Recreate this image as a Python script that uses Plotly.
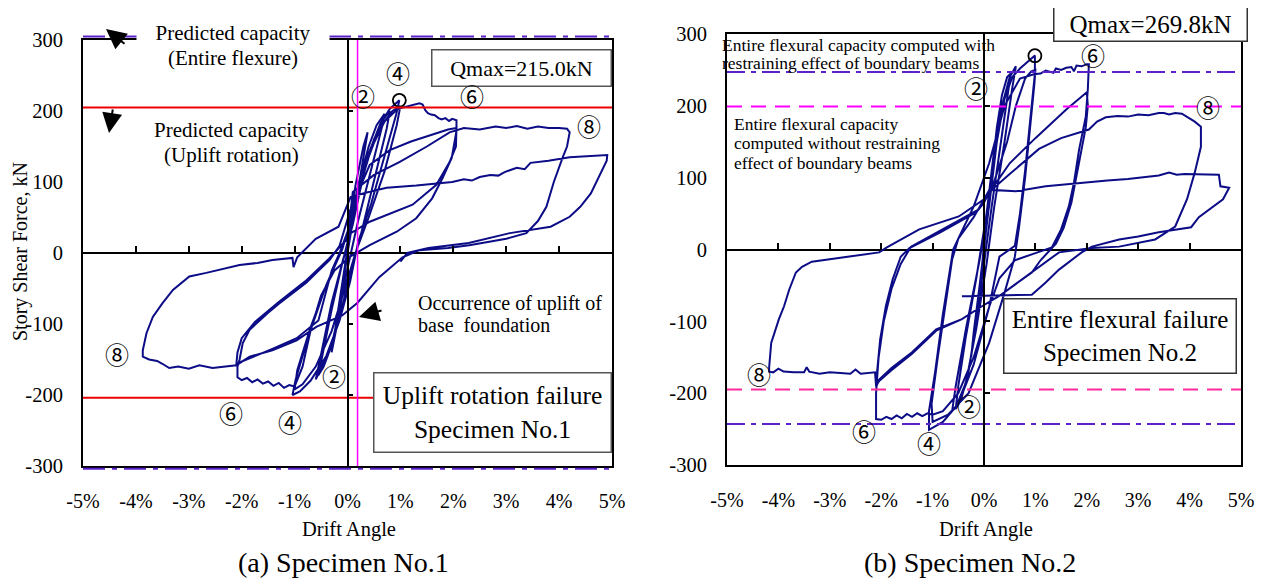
import plotly.graph_objects as go

W, H = 1265, 579          # browser window
OFF = 8                   # default page (body) margin that plotly's html keeps around the figure
FW, FH = W - OFF, H - OFF # figure size so that the figure ends exactly at the window edges

# ---------------- DATA (drift angle in %, story shear force in kN) ----------------
# Specimen No.1 (uplift rotation failure) - traced cycle by cycle
s1_c1 = [(0.00, 0), (0.05, 40), (0.15, 95), (0.30, 150), (0.38, 170), (0.30, 135), (0.12, 55), (0.00, 0),
         (-0.10, -55), (-0.22, -110), (-0.30, -140), (-0.22, -100), (-0.08, -30)]
s1_c2 = [(0.05, 30), (0.20, 95), (0.40, 150), (0.55, 180), (0.70, 196), (0.66, 180), (0.45, 120), (0.20, 45),
         (0.02, -15), (-0.15, -80), (-0.30, -130), (-0.45, -160), (-0.55, -172), (-0.48, -145), (-0.30, -80),
         (-0.10, -15)]
s1_c3 = [(0.10, 40), (0.30, 110), (0.50, 160), (0.68, 188), (0.80, 200), (0.74, 175), (0.50, 100), (0.25, 25),
         (0.05, -30), (-0.15, -90), (-0.35, -140), (-0.60, -178), (-0.52, -150), (-0.30, -70), (-0.05, 0)]
s1_c4 = [(0.15, 60), (0.40, 140), (0.62, 182), (0.80, 203), (0.98, 215), (0.92, 195), (0.70, 135), (0.45, 70),
         (0.20, 15), (0.05, -40), (-0.15, -95), (-0.40, -145), (-0.70, -180), (-0.90, -195), (-1.04, -200),
         (-0.98, -178), (-0.75, -120), (-0.45, -55), (-0.15, 0)]
s1_c5 = [(0.10, 50), (0.35, 125), (0.60, 175), (0.85, 200), (1.00, 207), (0.93, 180), (0.70, 115), (0.40, 50),
         (0.15, 0), (-0.05, -50), (-0.30, -110), (-0.60, -160), (-0.85, -185), (-1.00, -192), (-0.95, -165),
         (-0.70, -105), (-0.40, -45), (-0.10, 5)]
s1_c6 = [(0.10, 55), (0.40, 140), (0.70, 185), (0.95, 203), (1.10, 206), (1.25, 209), (1.36, 211), (1.42, 209),
         (1.47, 201), (1.52, 197), (1.58, 195), (1.65, 194), (1.72, 190), (1.78, 188), (1.85, 190), (1.92, 186),
         (1.98, 189), (2.06, 187), (2.06, 172), (1.97, 134), (1.80, 106), (1.60, 77), (1.30, 49), (0.93, 30),
         (0.42, 11), (0.05, -5), (-0.25, -25), (-0.50, -60), (-0.70, -110), (-0.85, -160), (-1.00, -188),
         (-1.10, -186), (-1.20, -190), (-1.30, -183), (-1.40, -187), (-1.50, -181), (-1.60, -184), (-1.70, -178),
         (-1.80, -182), (-1.90, -176), (-2.00, -179), (-2.08, -175), (-2.08, -160), (-2.04, -150), (-1.98, -127),
         (-1.85, -108), (-1.72, -99), (-1.50, -84), (-1.29, -71), (-1.05, -57), (-0.78, -42), (-0.55, -25),
         (-0.34, -10), (-0.15, 10)]
s1_c7 = [(0.05, 60), (0.42, 124), (0.80, 145), (1.20, 157), (1.68, 169), (1.90, 174), (2.06, 176), (2.05, 150),
         (1.93, 128), (1.68, 96), (1.23, 68), (0.80, 55), (0.42, 44), (0.00, 25), (-0.30, -25), (-0.55, -95),
         (-0.96, -120), (-1.42, -135), (-1.85, -148), (-2.10, -156), (-2.08, -140), (-2.00, -120), (-1.75, -97),
         (-1.30, -69), (-0.80, -40), (-0.35, -8), (0.00, 20)]
s1_c8 = [(0.10, 86), (0.50, 110), (0.98, 128), (1.50, 150), (1.93, 170), (2.20, 176), (2.50, 174), (2.80, 178),
         (3.00, 176), (3.20, 179), (3.40, 175), (3.60, 178), (3.80, 176), (4.00, 176), (4.15, 175), (4.20, 170),
         (4.15, 150), (4.07, 135), (3.90, 100), (3.76, 65), (3.60, 45), (3.38, 28), (3.00, 20), (2.68, 16),
         (2.30, 11), (1.90, 7), (1.36, 4), (1.04, -6), (0.60, -34), (0.19, -70), (-0.10, -88), (-0.59, -104),
         (-0.96, -123), (-1.42, -137), (-1.85, -146), (-2.10, -158), (-2.30, -160), (-2.55, -162), (-2.80, -158),
         (-3.00, -163), (-3.20, -160), (-3.37, -162), (-3.50, -156), (-3.60, -152), (-3.75, -150), (-3.87, -146),
         (-3.87, -137), (-3.84, -125), (-3.80, -113), (-3.68, -90), (-3.50, -71), (-3.30, -52), (-3.10, -40),
         (-2.99, -33), (-2.67, -28), (-2.30, -22), (-2.04, -17), (-1.70, -14), (-1.42, -10), (-1.04, -7),
         (-1.02, -20), (-0.95, -6), (-0.60, 20), (-0.17, 37)]
s1_final = [(0.06, 79), (0.40, 86), (0.74, 92), (1.30, 95), (1.98, 100), (2.20, 104), (2.35, 102), (2.50, 107),
            (2.70, 110), (2.85, 109), (2.97, 114), (3.20, 120), (3.35, 118), (3.46, 127), (3.80, 130), (4.20, 135),
            (4.60, 137), (4.91, 138), (4.90, 130), (4.84, 121), (4.60, 84), (4.40, 65), (4.20, 51), (3.84, 37),
            (3.07, 28), (2.29, 14), (1.53, 7), (1.13, 0), (1.00, -12)]

# Specimen No.2 (entire flexural failure)
s2_c1 = [(0.00, 0), (0.05, 50), (0.15, 110), (0.25, 160), (0.20, 130), (0.08, 50), (0.00, 0), (-0.08, -50),
         (-0.18, -110), (-0.25, -150), (-0.20, -115), (-0.05, -30)]
s2_c2 = [(0.05, 40), (0.15, 110), (0.25, 170), (0.35, 215), (0.45, 240), (0.52, 245), (0.45, 210), (0.30, 140),
         (0.15, 60), (0.00, -20), (-0.15, -100), (-0.30, -170), (-0.45, -210), (-0.55, -222), (-0.50, -190),
         (-0.35, -120), (-0.15, -40)]
s2_c3 = [(0.05, 50), (0.20, 140), (0.35, 200), (0.50, 240), (0.62, 255), (0.55, 225), (0.40, 150), (0.20, 60),
         (0.05, -20), (-0.15, -110), (-0.35, -185), (-0.55, -220), (-0.62, -225), (-0.55, -190), (-0.35, -110),
         (-0.10, -20)]
s2_c4 = [(0.10, 60), (0.25, 150), (0.40, 210), (0.55, 240), (0.70, 252), (0.80, 258), (0.90, 265), (0.99, 270),
         (0.99, 245), (0.90, 180), (0.80, 110), (0.70, 50), (0.60, 5), (0.30, -10), (0.10, -80), (-0.20, -160),
         (-0.50, -215), (-0.80, -240), (-1.07, -251), (-1.07, -225), (-0.95, -170), (-0.80, -90), (-0.65, -20),
         (-0.60, 0)]
s2_c5 = [(-0.50, 15), (-0.20, 45), (0.20, 95), (0.45, 150), (0.62, 200), (0.80, 238), (0.92, 248), (1.00, 250),
         (0.98, 230), (0.90, 170), (0.80, 100), (0.68, 30), (0.60, -10), (0.40, -60), (0.10, -130), (-0.30, -200),
         (-0.70, -230), (-1.00, -240), (-1.02, -215), (-0.90, -150), (-0.75, -80), (-0.62, -14), (-0.50, 15)]
s2_c6 = [(-0.20, 60), (0.10, 120), (0.40, 200), (0.70, 238), (0.97, 244), (1.10, 245), (1.20, 249), (1.26, 248),
         (1.35, 246), (1.40, 252), (1.50, 250), (1.60, 253), (1.70, 254), (1.75, 248), (1.80, 256), (1.90, 255),
         (2.00, 258), (2.04, 258), (2.02, 223), (1.98, 185), (1.85, 139), (1.75, 93), (1.65, 60), (1.50, 28),
         (1.32, 3), (1.00, -5), (0.60, -15), (0.30, -40), (0.10, -80), (-0.20, -150), (-0.50, -200), (-0.80, -225),
         (-1.00, -230), (-1.10, -228), (-1.20, -232), (-1.30, -228), (-1.40, -233), (-1.50, -229), (-1.60, -235),
         (-1.70, -231), (-1.80, -236), (-1.90, -233), (-2.00, -237), (-2.10, -236), (-2.10, -200), (-2.05, -150),
         (-1.95, -100), (-1.80, -55), (-1.62, -20), (-1.42, 4), (-0.80, 28), (-0.10, 56)]
s2_c7 = [(0.14, 83), (0.50, 120), (1.00, 155), (1.30, 175), (1.60, 195), (1.85, 210), (2.00, 219), (2.02, 200),
         (1.98, 170), (1.90, 140), (1.80, 100), (1.70, 65), (1.55, 30), (1.40, 8), (1.10, -15), (0.93, -32),
         (0.29, -65), (-0.04, -79), (-0.43, -97), (-0.93, -111), (-1.40, -143), (-1.80, -165), (-2.04, -181),
         (-2.10, -192), (-2.08, -170), (-2.02, -125), (-1.91, -79), (-1.78, -42), (-1.62, -10), (-1.45, 2),
         (-0.85, 24), (-0.15, 52), (0.00, 65)]
s2_c8 = [(0.10, 80), (0.50, 105), (1.07, 140), (1.50, 155), (1.85, 163), (2.04, 167), (2.20, 178), (2.37, 184),
         (2.60, 186), (2.80, 185), (3.00, 188), (3.20, 187), (3.40, 190), (3.50, 190), (3.60, 188), (3.72, 190),
         (3.85, 189), (3.95, 185), (4.10, 178), (4.22, 171), (4.22, 143), (4.10, 107), (3.95, 70), (3.72, 32),
         (3.33, 14), (2.63, 4), (2.10, 2), (1.46, -4), (0.93, -32), (0.29, -65), (-0.04, -79), (-0.43, -97),
         (-0.93, -113), (-1.40, -145), (-1.80, -168), (-2.04, -183), (-2.10, -190), (-2.12, -171), (-2.40, -173),
         (-2.50, -167), (-2.60, -173), (-2.80, -172), (-3.00, -171), (-3.20, -173), (-3.40, -170), (-3.45, -164),
         (-3.50, -171), (-3.70, -171), (-3.90, -170), (-4.00, -166), (-4.10, -171), (-4.18, -170), (-4.18, -164),
         (-4.14, -130), (-3.99, -97), (-3.89, -79), (-3.79, -56), (-3.66, -32), (-3.54, -24), (-3.35, -17),
         (-2.69, -10), (-2.04, -4), (-1.89, 3), (-1.26, 28), (-0.49, 46), (0.00, 70)]
s2_final = [(0.14, 83), (0.62, 81), (1.20, 88), (1.90, 93), (2.40, 96), (2.80, 98), (3.10, 100), (3.40, 103),
            (3.60, 107), (3.75, 104), (3.90, 105), (4.20, 105), (4.57, 104), (4.60, 88), (4.77, 86), (4.65, 70),
            (4.40, 57), (4.18, 45), (4.03, 31), (3.70, 27), (3.40, 24), (3.00, 18), (2.63, 14), (2.10, 4),
            (1.90, -4), (1.46, -28), (1.20, -46), (0.93, -63), (-0.43, -65)]

# axis ticks
drift_ticks = [-5, -4, -3, -2, -1, 0, 1, 2, 3, 4, 5]
drift_ticktext = ['-5%', '-4%', '-3%', '-2%', '-1%', '0%', '1%', '2%', '3%', '4%', '5%']
force_ticks = [-300, -200, -100, 0, 100, 200, 300]
force_ticktext = ['-300', '-200', '-100', '0', '100', '200', '300']

# reference capacities / markers
s1_uplift_capacity = [205, -204]          # red lines
s1_entire_capacity = [305, -304]          # purple dash-dot lines
s1_uplift_drift = [0.19]                  # magenta vertical line (uplift occurrence)
s2_with_beams = [247, -243]               # purple dash-dot
s2_without_beams = [199, -195]            # magenta dashed
qmax_drift = [0.98, 0.99]
qmax_force = [215.0, 269.8]

# circled cycle labels (text, drift, force)
s1_labels = [('②', 0.30, 222), ('④', 0.95, 254), ('⑥', 2.36, 222), ('⑧', 4.57, 180),
             ('②', -0.26, -172), ('④', -1.08, -237), ('⑥', -2.21, -224), ('⑧', -4.35, -141)]
s2_labels = [('④', 1.03, 301), ('⑥', 2.12, 272), ('②', -0.16, 225), ('⑧', 4.36, 199),
             ('⑧', -4.38, -173), ('⑥', -2.33, -252), ('④', -1.07, -269), ('②', -0.29, -217)]


def join(*cycles):
    pts = [p for c in cycles for p in c]
    return [p[0] for p in pts], [p[1] for p in pts]


s1_x, s1_y = join(s1_c1, s1_c2, s1_c3, s1_c4, s1_c5, s1_c6, s1_c7, s1_c8, s1_final)
s2_x, s2_y = join(s2_c1, s2_c2, s2_c3, s2_c4, s2_c5, s2_c6, s2_c7, s2_c8, s2_final)


def px(x):
    """window pixel x -> paper fraction"""
    return (x - OFF) / FW


def py(y):
    """window pixel y -> paper fraction"""
    return 1 - (y - OFF) / FH


L_X = [px(83), px(612)]
L_Y = [py(466), py(40)]
R_X = [px(727), px(1241)]
R_Y = [py(465), py(34)]
XR = [drift_ticks[0], drift_ticks[-1]]
YR = [force_ticks[0], force_ticks[-1]]

# helper axis (left) slightly taller than frame so the +-305 lines are not clipped
E = 0.02
ext = (YR[1] - YR[0]) * E / (L_Y[1] - L_Y[0])

CURVE = '#0c0c86'
SERIF = 'Liberation Serif, Times New Roman, serif'
CIRC = 'Noto Sans CJK JP'

fig = go.Figure()

# ---- left panel ----
fig.add_trace(go.Scatter(x=s1_x, y=s1_y, mode='lines', line=dict(color=CURVE, width=2),
                         xaxis='x', yaxis='y', hoverinfo='skip'))
for v in s1_uplift_capacity:
    fig.add_trace(go.Scatter(x=XR, y=[v, v], mode='lines', line=dict(color='#ee0000', width=2),
                             xaxis='x3', yaxis='y3', hoverinfo='skip'))
for d in s1_uplift_drift:
    fig.add_trace(go.Scatter(x=[d, d], y=YR, mode='lines', line=dict(color='#ff00ff', width=1.5),
                             xaxis='x3', yaxis='y3', hoverinfo='skip'))
for v in s1_entire_capacity:
    fig.add_trace(go.Scatter(x=XR, y=[v, v], mode='lines',
                             line=dict(color='#5a22c8', width=2, dash='22px,7px,5px,7px'),
                             xaxis='x', yaxis='y5', hoverinfo='skip'))
fig.add_trace(go.Scatter(x=qmax_drift[:1], y=qmax_force[:1], mode='markers',
                         marker=dict(symbol='circle-open', size=13, color='black', line=dict(width=1.8)),
                         xaxis='x', yaxis='y', hoverinfo='skip'))

# ---- right panel ----
fig.add_trace(go.Scatter(x=s2_x, y=s2_y, mode='lines', line=dict(color=CURVE, width=2),
                         xaxis='x2', yaxis='y2', hoverinfo='skip'))
for v in s2_with_beams:
    fig.add_trace(go.Scatter(x=XR, y=[v, v], mode='lines',
                             line=dict(color='#5a22c8', width=2, dash='18px,6px,5px,6px'),
                             xaxis='x4', yaxis='y4', hoverinfo='skip'))
for v, c in zip(s2_without_beams, ['#ff00ff', '#ff2a9e']):
    fig.add_trace(go.Scatter(x=XR, y=[v, v], mode='lines',
                             line=dict(color=c, width=2, dash='15px,9px'),
                             xaxis='x4', yaxis='y4', hoverinfo='skip'))
fig.add_trace(go.Scatter(x=qmax_drift[1:], y=qmax_force[1:], mode='markers',
                         marker=dict(symbol='circle-open', size=13, color='black', line=dict(width=1.8)),
                         xaxis='x2', yaxis='y2', hoverinfo='skip'))


def main_x(dom, anchor):
    return dict(domain=dom, anchor=anchor, range=XR, tickvals=drift_ticks, ticktext=drift_ticktext,
                showgrid=False, zeroline=False, showline=True, mirror=True, linecolor='black',
                linewidth=2, ticks='', tickfont=dict(family=SERIF, size=20, color='black'),
                ticklabelstandoff=16, automargin=False)


def main_y(dom, anchor):
    return dict(domain=dom, anchor=anchor, range=YR, tickvals=force_ticks, ticktext=force_ticktext,
                showgrid=False, zeroline=True, zerolinecolor='black', zerolinewidth=1.5,
                showline=True, mirror=True, linecolor='black', linewidth=2, ticks='',
                tickfont=dict(family=SERIF, size=20.5, color='black'), ticklabelstandoff=14,
                automargin=False)


def over_x(over, ydom):
    return dict(overlaying=over, anchor='free', position=(ydom[0] + ydom[1]) / 2, range=XR,
                tickvals=drift_ticks[1:-1], ticks='inside', ticklen=7, tickwidth=1.5, tickcolor='black',
                showticklabels=False, showline=False, showgrid=False, zeroline=False, side='bottom',
                automargin=False)


def over_y(over, xdom):
    return dict(overlaying=over, anchor='free', position=(xdom[0] + xdom[1]) / 2, range=YR,
                tickvals=force_ticks[1:-1], ticks='inside', ticklen=5, tickwidth=1.5, tickcolor='black',
                showticklabels=False, showline=True, linecolor='black', linewidth=1.5,
                showgrid=False, zeroline=False, side='left', automargin=False)


fig.update_layout(
    width=FW, height=FH, autosize=False, margin=dict(l=0, r=0, t=0, b=0, pad=0, autoexpand=False),
    paper_bgcolor='white', plot_bgcolor='rgba(0,0,0,0)', showlegend=False,
    font=dict(family=SERIF, color='black'),
    xaxis=main_x(L_X, 'y'), yaxis=main_y(L_Y, 'x'),
    xaxis2=main_x(R_X, 'y2'), yaxis2=main_y(R_Y, 'x2'),
    xaxis3=over_x('x', L_Y), yaxis3=over_y('y', L_X),
    xaxis4=over_x('x2', R_Y), yaxis4=over_y('y2', R_X),
    yaxis5=dict(domain=[L_Y[0] - E, L_Y[1] + E], range=[YR[0] - ext, YR[1] + ext], anchor='x',
                visible=False, showgrid=False, zeroline=False, automargin=False),
)


def ann(text, x, y, size, **kw):
    d = dict(xref='paper', yref='paper', x=px(x), y=py(y), text=text, showarrow=False,
             font=dict(family=SERIF, size=size, color='black'), xanchor='center', yanchor='middle')
    d.update(kw)
    return d


anns = [
    # left panel texts
    ann('Predicted capacity', 233, 33, 21, bgcolor='white', width=190, height=26),
    ann('(Entire flexure)', 233, 58, 21),
    ann('Predicted capacity', 231, 130, 21),
    ann('(Uplift rotation)', 231, 155, 21),
    ann('Occurrence of uplift of', 416, 304, 20, xanchor='left'),
    ann('base  foundation', 416, 325, 20, xanchor='left'),
    ann('Qmax=215.0kN', 521, 68, 22, bgcolor='white', bordercolor='#555555', borderwidth=1.5,
        width=176, height=33),
    ann('Uplift rotation failure<br>Specimen No.1', 492, 412, 25.5, bgcolor='white', bordercolor='#555555',
        borderwidth=1.5, width=234, height=76),
    ann('Story Shear Force, kN', 20, 252, 20, textangle=-90),
    ann('Drift Angle', 349, 529, 20.5),
    ann('(a) Specimen No.1', 343, 562, 28),
    # right panel texts
    ann('Entire flexural capacity computed with', 720, 45, 17.5, xanchor='left'),
    ann('restraining effect of boundary beams', 720, 63, 17.5, xanchor='left'),
    ann('Entire flexural capacity', 732, 124, 17.5, xanchor='left'),
    ann('computed without restraining', 732, 143, 17.5, xanchor='left'),
    ann('effect of boundary beams', 732, 163, 17.5, xanchor='left'),
    ann('Qmax=269.8kN', 1150, 24, 25, bgcolor='white', bordercolor='#333333', borderwidth=1.5,
        width=190, height=31),
    ann('Entire flexural failure<br>Specimen No.2', 1120, 336, 25, bgcolor='white', bordercolor='#333333',
        borderwidth=1.5, width=229, height=71),
    ann('Drift Angle', 986, 529, 20.5),
    ann('(b) Specimen No.2', 970, 562, 28),
]

# arrows (left panel)
for tip, off in [((106, 29), (20, 16)), ((109, 133), (4, -25)), ((359, 317), (24, -7))]:
    anns.append(dict(xref='paper', yref='paper', x=px(tip[0]), y=py(tip[1]), ax=off[0], ay=off[1],
                     text='', showarrow=True, arrowhead=2, arrowsize=2, arrowwidth=2, arrowcolor='black'))

# circled cycle numbers
for t, x, y in s1_labels:
    anns.append(dict(xref='x', yref='y', x=x, y=y, text=t, showarrow=False,
                     font=dict(family=CIRC, size=24, color='black')))
for t, x, y in s2_labels:
    anns.append(dict(xref='x2', yref='y2', x=x, y=y, text=t, showarrow=False,
                     font=dict(family=CIRC, size=24, color='black')))

fig.update_layout(annotations=anns)
fig.write_html('out.html')
